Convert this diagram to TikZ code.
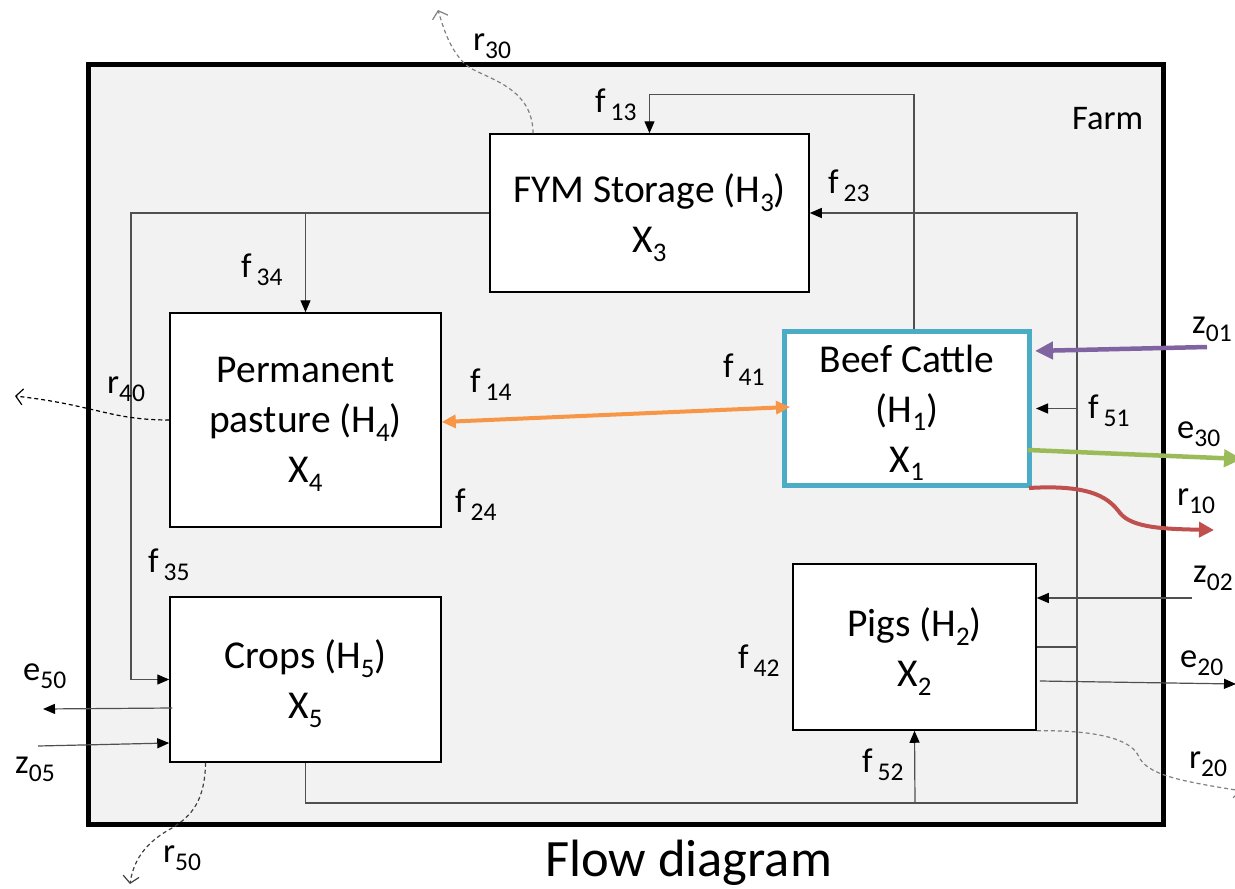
\documentclass[tikz,border=0pt]{standalone}
\usepackage{fontspec}
\setmainfont{Carlito}
\usetikzlibrary{arrows.meta,calc}

% subscripts set lower and smaller; their depth is ignored
\newcommand\lsub[1]{\raisebox{-0.22em}[\height][0pt]{\scalebox{0.68}{#1}}}
% slightly larger subscripts for the flow labels
\newcommand\tsub[1]{\raisebox{-0.24em}[\height][0pt]{\scalebox{0.74}{#1}}}
\newcommand\fl[1]{f\hspace{0.14em}\tsub{#1}}

\definecolor{farmgrey}{HTML}{F2F2F2}
\definecolor{linkgrey}{HTML}{505050}
\definecolor{cattleblue}{HTML}{4BACC6}
\definecolor{flowpurple}{HTML}{8064A2}
\definecolor{flowgreen}{HTML}{9BBB59}
\definecolor{flowred}{HTML}{C0504D}
\definecolor{floworange}{HTML}{F79646}

\begin{document}
\begin{tikzpicture}[x=1pt,y=-1pt,
  farmbox/.style={draw=black, line width=5pt, fill=farmgrey, inner sep=0pt},
  compbox/.style={draw=black, line width=1.5pt, fill=white, inner sep=0pt,
    align=center, font=\fontsize{39.5}{50}\selectfont},
  lbl/.style={inner sep=0pt, anchor=base west, font=\fontsize{34.5}{40}\selectfont},
  link/.style={draw=linkgrey, line width=1.2pt},
  arr/.style={link, -{Triangle[length=12pt,width=10pt,color=black]}},
  fat/.style={line width=4.5pt, -{Triangle[length=18pt,width=17pt]}},
  loss/.style={dashed, dash pattern=on 4pt off 3pt, line width=1.2pt,
    -{Straight Barb[length=7pt,width=16pt]}}
]
\useasboundingbox (0,0) rectangle (1235,889);

% farm boundary
\node[farmbox, minimum width=1075pt, minimum height=760pt] (farm) at (625.5,444) {};
\node[lbl] (farmlbl) at (1072,129) {Farm};

% compartments
\node[compbox, minimum width=319pt, minimum height=158pt] (fym) at (649.5,213)
  {FYM Storage (H\lsub{3})\\X\lsub{3}};
\node[compbox, minimum width=271pt, minimum height=214pt] (pasture) at (305.5,420)
  {Permanent\\pasture (H\lsub{4})\\X\lsub{4}};
\node[compbox, draw=cattleblue, line width=5pt, minimum width=245pt, minimum height=154pt]
  (beef) at (907,408.5) {Beef Cattle\\(H\lsub{1})\\X\lsub{1}};
\node[compbox, minimum width=271pt, minimum height=165pt] (crops) at (305.5,679.5)
  {Crops (H\lsub{5})\\X\lsub{5}};
\node[compbox, minimum width=243pt, minimum height=166pt] (pigs) at (914.5,647)
  {Pigs (H\lsub{2})\\X\lsub{2}};

% routing points of the internal flows
\coordinate (railR) at (1077,803);
\coordinate (railL) at (131,213);
\coordinate (j52) at (915,803);

% internal flows
\draw[arr] ([xshift=7pt]beef.north) |- ($(fym.north)+(0,-39)$) -- (fym.north);
\draw[arr] (pigs.east) -| (railR |- fym.east) -- (fym.east);
\draw[arr, shorten >=4pt] (crops.south) |- (railR) |- (beef.east);
\draw[arr] (j52) -- (pigs.south);
\draw[arr] (fym.west) -- (railL) |- (crops.west);
\draw[arr] (fym.west -| pasture.north) -- (pasture.north);
\draw[fat, floworange, line width=4pt, {Triangle[length=14pt,width=13pt]}-{Triangle[length=14pt,width=13pt]}]
  ([yshift=-2pt]pasture.east) -- ([yshift=1.5pt,xshift=8pt]beef.west);

% free ends of the external flows
\coordinate (z01s) at (1207,347);
\coordinate (e30e) at (1242,459);
\coordinate (r10e) at (1214,530);
\coordinate (z02s) at (1192,598);
\coordinate (e20e) at (1236,684);
\coordinate (r20e) at (1242,791);
\coordinate (e50e) at (43,709);
\coordinate (z05s) at (38,746);
\coordinate (r50e) at (130,884);
\coordinate (r40e) at (15,396);
\coordinate (r30e) at (438,10);

% external flows
\draw[fat, flowpurple, shorten >=3pt] (z01s) -- ([yshift=57.5pt]beef.east);
\draw[fat, flowgreen] ([yshift=-41.5pt,xshift=-4pt]beef.east) -- (e30e);
\draw[fat, flowred, line width=4pt, -{Triangle[length=15pt,width=15pt]}]
  ([xshift=-3pt]beef.south east) .. controls (1095,484) and (1110,500) .. (1120,513)
  .. controls (1132,528) and (1165,529) .. (r10e);
\draw[arr] (z02s) -- ([yshift=49pt]pigs.east);
\draw[arr] ([yshift=-34pt,xshift=3pt]pigs.east) -- (e20e);
\draw[loss, gray] (pigs.south east) .. controls (1100,730) and (1130,740) .. (1138,755)
  .. controls (1146,775) and (1180,781) .. (r20e);
\draw[arr] ([yshift=-28.5pt,xshift=3pt]crops.west) -- (e50e);
\draw[arr] (z05s) -- ([yshift=-63.5pt]crops.west);
\draw[loss, black!75] ([xshift=-100pt]crops.south) .. controls (205,800) and (192,816) .. (172,828)
  .. controls (150,840) and (134,856) .. (r50e);
\draw[loss, black] (pasture.west) .. controls (110,420) and (95,405) .. (r40e);
\draw[loss, gray] ([xshift=-116.5pt]fym.north) .. controls (533,85) and (482,78) .. (466,65)
  .. controls (450,50) and (444,30) .. (r30e);

% flow labels
\node[lbl] (lf13) at (595,112) {\fl{13}};
\node[lbl] (lf23) at (828,193) {\fl{23}};
\node[lbl] (lf34) at (241,277) {\fl{34}};
\node[lbl] (lf14) at (470,392) {\fl{14}};
\node[lbl] (lf41) at (723,377) {\fl{41}};
\node[lbl] (lf24) at (455,512) {\fl{24}};
\node[lbl] (lf35) at (148,572) {\fl{35}};
\node[lbl] (lf42) at (738,668) {\fl{42}};
\node[lbl] (lf51) at (1088,418) {\fl{51}};
\node[lbl] (lf52) at (862,772) {\fl{52}};
\node[lbl] (lz01) at (1192,333) {z\tsub{01}};
\node[lbl] (le30) at (1177,438) {e\tsub{30}};
\node[lbl] (lr10) at (1177,505) {r\tsub{10}};
\node[lbl] (lz02) at (1193,582) {z\tsub{02}};
\node[lbl] (le20) at (1180,667) {e\tsub{20}};
\node[lbl] (lr20) at (1189,768) {r\tsub{20}};
\node[lbl] (le50) at (23,680) {e\tsub{50}};
\node[lbl] (lz05) at (15,773) {z\tsub{05}};
\node[lbl] (lr50) at (163,862) {r\tsub{50}};
\node[lbl] (lr40) at (107,393) {r\tsub{40}};
\node[lbl] (lr30) at (473,50) {r\tsub{30}};

% caption
\node[anchor=base west, inner sep=0pt, font=\fontsize{52.5}{60}\selectfont] (title)
  at (545,876) {Flow diagram};
\end{tikzpicture}
\end{document}
